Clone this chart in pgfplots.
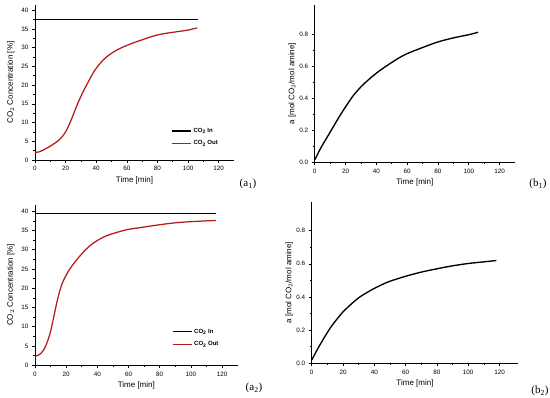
\documentclass[border=0pt]{standalone}
\usepackage{pgfplots}
\pgfplotsset{compat=1.18}
\usepackage{fontspec}
\setmainfont{Liberation Sans}
\newfontfamily\seriffont{Liberation Serif}
\definecolor{myred}{RGB}{185,25,25}
\pgfplotsset{
  myax/.style={
    scale only axis, anchor=south west,
    axis lines=left, axis line style={-, line width=0.7pt},
    tick align=outside, tick pos=left,
    major tick length=3pt, minor tick length=1.8pt,
    minor tick num=1,
    every tick/.style={black, line width=0.6pt},
    tick label style={font=\fontsize{6.3}{7}\selectfont},
    label style={font=\fontsize{8}{9}\selectfont},
    /pgf/number format/assume math mode=true,
    xmin=0, xtick={0,20,...,120},
    xlabel={Time [min]},
    xlabel style={yshift=1pt},
    legend cell align=left,
    legend image code/.code={\draw[#1] plot coordinates {(0pt,0pt) (9.5pt,0pt) (19pt,0pt)};},
    legend style={draw=none, fill=none, font=\bfseries\fontsize{6}{7}\selectfont,
      row sep=3pt, inner sep=0pt},
  },
  aax/.style={myax, ymin=0, ytick={0,5,...,40}, ylabel={CO$_2$ Concentration [\%]},
    ylabel style={yshift=0pt}},
  bax/.style={myax, ymin=0, ytick={0,0.2,...,0.8},
    yticklabel style={/pgf/number format/.cd, fixed, fixed zerofill, precision=1},
    ylabel={a [mol CO$_2$/mol amine]}, ylabel style={yshift=-3.5pt}},
}
\pgfplotstableread{
t v
0 2.0
3 2.2
5 2.6
10 3.7
15 5.1
17.5 6.1
20 7.5
22.5 9.6
25 12.1
27.5 14.7
30 17.0
32.5 19.1
35 21.0
37.5 22.9
40 24.5
45 26.9
50 28.5
55 29.7
60 30.6
65 31.4
70 32.1
75 32.8
80 33.4
85 33.8
90 34.1
95 34.4
100 34.7
106 35.3
}\aout
\pgfplotstableread{
t v
0 2.4
2 2.6
4 3.2
6 4.3
8 6.2
10 8.8
12 12.5
14 16.3
16 19.5
18 21.8
20 23.4
22 24.8
25 26.5
28 28.0
31 29.4
34 30.6
37 31.6
40 32.4
45 33.5
50 34.2
55 34.8
60 35.3
70 35.9
80 36.5
90 37.0
100 37.3
110 37.5
116 37.6
}\aoutb
\pgfplotstableread{
t v
0 0.015
4 0.09
8 0.155
12 0.22
16 0.285
20 0.345
25 0.415
30 0.47
35 0.515
40 0.555
45 0.59
50 0.622
55 0.652
60 0.677
70 0.715
80 0.75
90 0.775
100 0.795
106 0.81
}\bone
\pgfplotstableread{
t v
0 0.02
4 0.09
8 0.155
12 0.215
16 0.265
20 0.31
25 0.355
30 0.395
35 0.425
40 0.452
45 0.475
50 0.495
60 0.525
70 0.55
80 0.57
90 0.588
100 0.602
110 0.612
118 0.62
}\btwo
\begin{document}
\begin{tikzpicture}
\useasboundingbox (0,0) rectangle (550pt,398pt);
% a1
\begin{axis}[aax, at={(35pt,238pt)}, width=199pt, height=155pt, xmax=130, ymax=41.4,
  legend style={at={(0.683,0.22)}, anchor=north west}]
\addplot[black, line width=1.4pt] coordinates {(0,37.6) (106.2,37.6)};
\addlegendentry{CO$_\mathbf{2}$ In}
\addplot[myred, line width=1.25pt, smooth] table[x=t,y=v] {\aout};
\addlegendentry{CO$_\mathbf{2}$ Out}
\end{axis}
% b1
\begin{axis}[bax, at={(314.7pt,235.7pt)}, width=200.3pt, height=157.3pt, xmax=130, ymax=0.98]
\addplot[black, line width=1.35pt, smooth] table[x=t,y=v] {\bone};
\end{axis}
% a2
\begin{axis}[aax, at={(35pt,32.7pt)}, width=202.7pt, height=160.6pt, xmax=130, ymax=41.7,
  legend style={at={(0.674,0.24)}, anchor=north west}]
\addplot[black, line width=1.4pt] coordinates {(0,39.4) (116,39.4)};
\addlegendentry{CO$_\mathbf{2}$ In}
\addplot[myred, line width=1.25pt, smooth] table[x=t,y=v] {\aoutb};
\addlegendentry{CO$_\mathbf{2}$ Out}
\end{axis}
% b2
\begin{axis}[bax, at={(311.7pt,34.7pt)}, width=206.6pt, height=161.3pt, xmax=132, ymax=0.973]
\addplot[black, line width=1.35pt, smooth] table[x=t,y=v] {\btwo};
\end{axis}
\node[font=\seriffont\fontsize{11}{12}\selectfont] at (248pt,214pt) {(a\textsubscript{1})};
\node[font=\seriffont\fontsize{11}{12}\selectfont] at (538pt,214pt) {(b\textsubscript{1})};
\node[font=\seriffont\fontsize{11}{12}\selectfont] at (254pt,10pt) {(a\textsubscript{2})};
\node[font=\seriffont\fontsize{11}{12}\selectfont] at (540pt,7pt) {(b\textsubscript{2})};
\end{tikzpicture}
\end{document}
